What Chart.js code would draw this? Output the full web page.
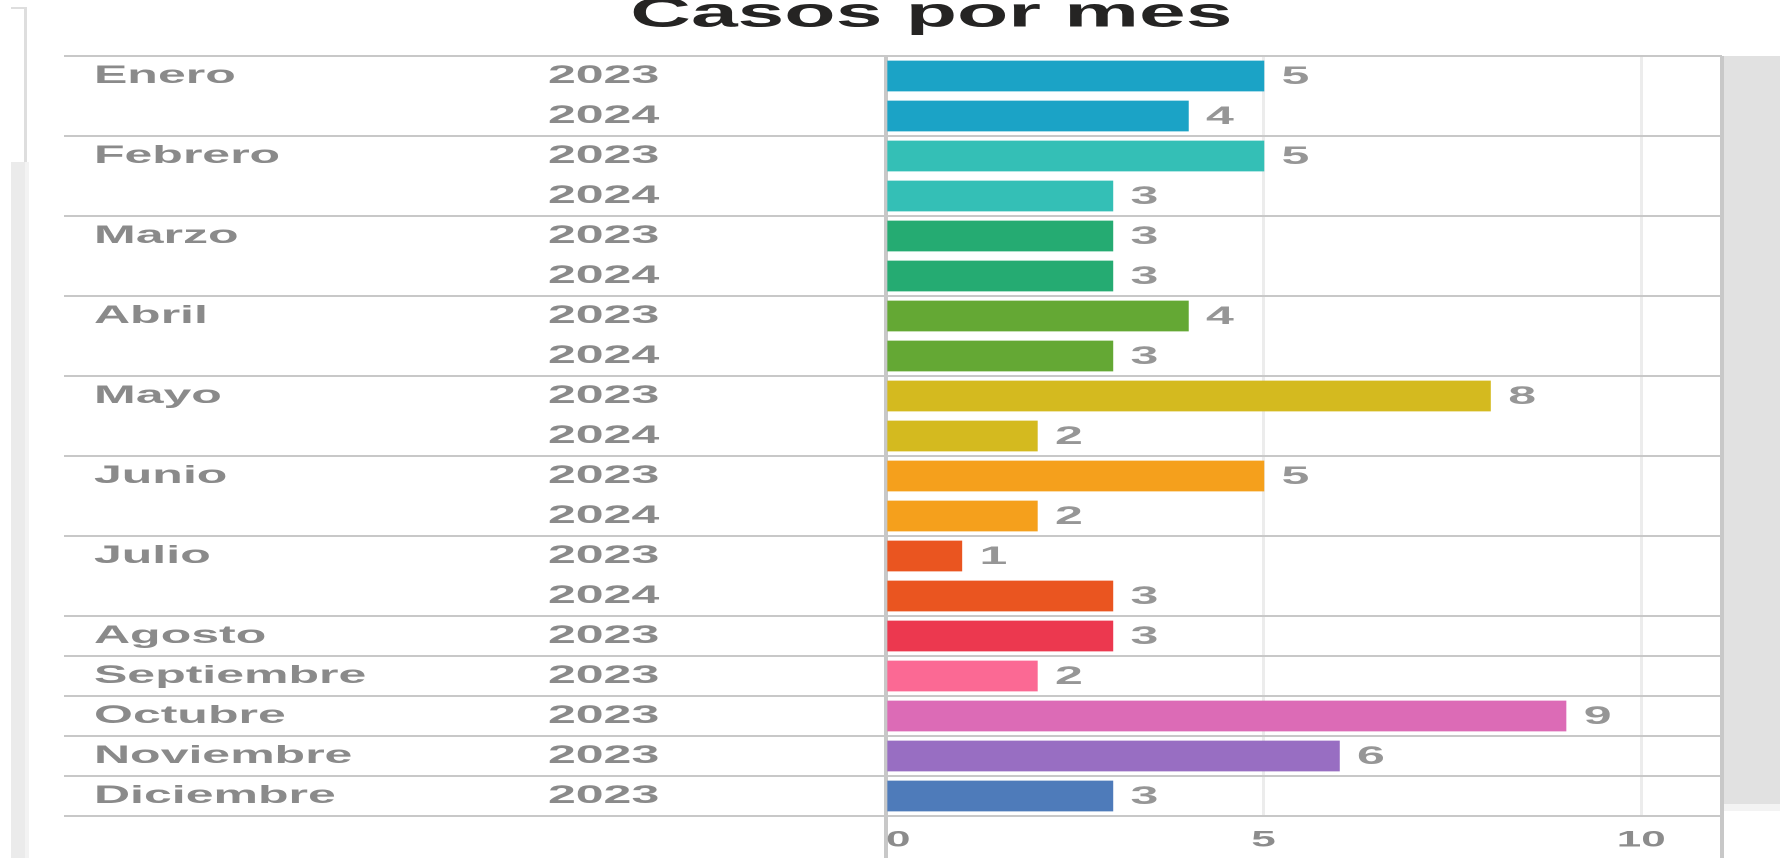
<!DOCTYPE html>
<html>
<head>
<meta charset="utf-8">
<script src="https://cdn.jsdelivr.net/npm/chart.js@4"></script>
<style>
  html, body { margin: 0; padding: 0; background: #fff; overflow: hidden; }
  #wrap { position: absolute; left: 0; top: 0; width: 890px; height: 858px; transform: scaleX(2); transform-origin: 0 0; }
  .panel { position: absolute; left: 1724px; top: 56px; width: 56px; height: 748px; background: #e1e1e1; }
  .panel2 { position: absolute; left: 1724px; top: 804px; width: 56px; height: 7px; background: #f3f3f3; }
  .strip { position: absolute; left: 11px; top: 162px; width: 14px; height: 696px; background: #ebebeb; border-right: 4px solid #f3f3f3; }
  .bracket { position: absolute; left: 11px; top: 7px; width: 13px; height: 155px; border-top: 2px solid #dedede; border-right: 3px solid #dedede; }
</style>
</head>
<body>
<div class="bracket"></div>
<div class="strip"></div>
<div class="panel"></div>
<div class="panel2"></div>
<div id="wrap"><canvas id="chart" width="890" height="858"></canvas></div>
<script>
const monthLabels = ['Enero', '', 'Febrero', '', 'Marzo', '', 'Abril', '', 'Mayo', '', 'Junio', '', 'Julio', '',
                     'Agosto', 'Septiembre', 'Octubre', 'Noviembre', 'Diciembre'];
const yearLabels  = ['2023', '2024', '2023', '2024', '2023', '2024', '2023', '2024', '2023', '2024', '2023', '2024', '2023', '2024',
                     '2023', '2023', '2023', '2023', '2023'];
const casos       = [5, 4, 5, 3, 3, 3, 4, 3, 8, 2, 5, 2, 1, 3, 3, 2, 9, 6, 3];
const xMax        = 11.07;
const xTicks      = [0, 5, 10, xMax];

const monthColors = ['#1ba3c6', '#34bfb6', '#25ab72', '#64a834', '#d4ba1f', '#f5a01c',
                     '#ea5520', '#ec384f', '#fb6994', '#dc6bb6', '#986ec2', '#4e7bba'];

// one colour per month, shared by its 2023/2024 rows
let g = -1;
const rowColors = monthLabels.map(m => { if (m) g++; return monthColors[g]; });

const FONT = "'Liberation Sans', Arial, sans-serif";
const LINE = '#c8c8c8';

const rowLine = c => (c.index === undefined || monthLabels[c.index]) ? LINE : 'rgba(0,0,0,0)';
const isEdge = c => c.tick && (c.tick.value === 0 || c.tick.value === xMax);

const valueLabels = {
  id: 'valueLabels',
  afterDatasetsDraw(chart) {
    const ctx = chart.ctx;
    const meta = chart.getDatasetMeta(0);
    ctx.save();
    ctx.font = 'bold 25px ' + FONT;
    ctx.fillStyle = '#969696';
    ctx.textAlign = 'left';
    ctx.textBaseline = 'middle';
    meta.data.forEach((bar, i) => {
      ctx.fillText(String(casos[i]), bar.x + 9, bar.y + 1);
    });
    ctx.restore();
  }
};

new Chart(document.getElementById('chart'), {
  type: 'bar',
  data: {
    labels: yearLabels,
    datasets: [{
      data: casos,
      backgroundColor: rowColors,
      barThickness: 30,
      yAxisID: 'y'
    }]
  },
  plugins: [valueLabels],
  options: {
    indexAxis: 'y',
    responsive: false,
    animation: false,
    devicePixelRatio: 2,
    layout: { padding: { left: 47, right: 29, top: 0, bottom: 0 } },
    plugins: {
      legend: { display: false },
      tooltip: { enabled: false },
      title: {
        display: true,
        text: '\u00a0\u00a0Casos por mes',
        color: '#252423',
        font: { family: FONT, size: 42, weight: 'bold', lineHeight: 1 },
        padding: { top: -6, bottom: 20 }
      }
    },
    scales: {
      x: {
        type: 'linear',
        min: 0,
        max: xMax,
        afterBuildTicks: s => { s.ticks = xTicks.map(v => ({ value: v })); },
        afterFit: s => { s.height = 42; },
        border: { display: false },
        grid: {
          color: c => isEdge(c) ? LINE : '#ececec',
          lineWidth: c => isEdge(c) ? 2 : 1.5,
          tickColor: c => isEdge(c) ? LINE : 'rgba(0,0,0,0)',
          tickLength: 42
        },
        ticks: {
          align: 'inner',
          padding: -31,
          color: '#8c8c8c',
          font: { family: FONT, size: 22, weight: 'bold' },
          callback: v => v === xMax ? '' : v
        }
      },
      y: {
        type: 'category',
        position: 'left',
        weight: 0,
        offset: true,
        afterFit: s => { s.width = 169; },
        border: { display: false },
        grid: {
          offset: true,
          color: rowLine,
          tickColor: rowLine,
          lineWidth: 2,
          tickLength: 411
        },
        ticks: {
          autoSkip: false,
          crossAlign: 'far',
          color: '#8a8a8a',
          font: { family: FONT, size: 25, weight: 'bold' }
        }
      },
      mes: {
        type: 'category',
        labels: monthLabels,
        position: 'left',
        weight: 1,
        offset: true,
        afterFit: s => { s.width = 227; },
        border: { display: false },
        grid: { display: false },
        ticks: {
          autoSkip: false,
          crossAlign: 'far',
          color: '#8a8a8a',
          font: { family: FONT, size: 25, weight: 'bold' }
        }
      }
    }
  }
});
</script>
</body>
</html>
